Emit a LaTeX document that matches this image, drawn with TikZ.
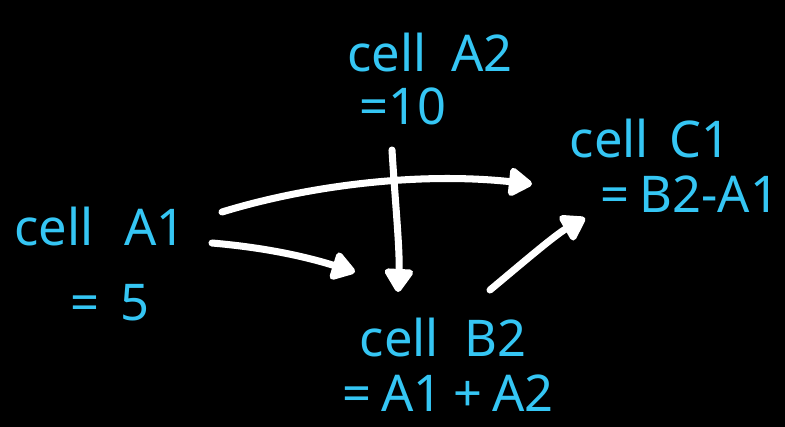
\documentclass[tikz,border=0pt]{standalone}
\usepackage{fontspec}
\setmainfont{Noto Sans}
\usepackage{xcolor}
\definecolor{inkCyan}{HTML}{35C6F4}
\definecolor{boardBlack}{HTML}{000000}
\usetikzlibrary{arrows.meta, positioning}

\begin{document}
\begin{tikzpicture}[
  x=0.025cm, y=-0.025cm,
  label/.style={text=inkCyan, inner sep=0pt, anchor=base, font=\fontsize{36}{40}\selectfont},
  link/.style={draw=white, line width=5pt, line cap=round, -{Triangle[round, length=0.65cm, width=0.8cm]}},
]
  % Background board
  \useasboundingbox (0,0) rectangle (785,427);
  \fill[boardBlack] (0,0) rectangle (785,427);

  % Cell names and values
  \node[label] at (100,245) (a1)  {cell\hspace{0.6em}A1};
  \node[label] at (110,320) (a1v) {=\hspace{0.4em}5};
  \node[label] at (430,72)  (a2)  {cell\hspace{0.5em}A2};
  \node[label] at (403,125) (a2v) {=10};
  \node[label] at (650,158) (c1)  {cell\hspace{0.4em}C1};
  \node[label] at (690,213) (c1v) {=\hspace{0.2em}B2-A1};
  \node[label] at (443,356) (b2)  {cell\hspace{0.5em}B2};
  \node[label] at (448,411) (b2v) {=\hspace{0.2em}A1\hspace{0.2em}+\hspace{0.2em}A2};

  % Dependencies
  \draw[link] ([shift={(122,-33)}]a1.base) .. controls (310,185) and (420,172) .. ([shift={(-118,26)}]c1.base);
  \draw[link] ([shift={(112,-2)}]a1.base) .. controls (270,248) and (310,258) .. ([shift={(-88,-84)}]b2.base);
  \draw[link] ([shift={(-11,25)}]a2v.base) .. controls (395,200) and (400,250) .. ([shift={(-45,-64)}]b2.base);
  \draw[link] ([shift={(47,-66)}]b2.base) .. controls (520,265) and (555,235) .. ([shift={(-105,5)}]c1v.base);
\end{tikzpicture}
\end{document}
